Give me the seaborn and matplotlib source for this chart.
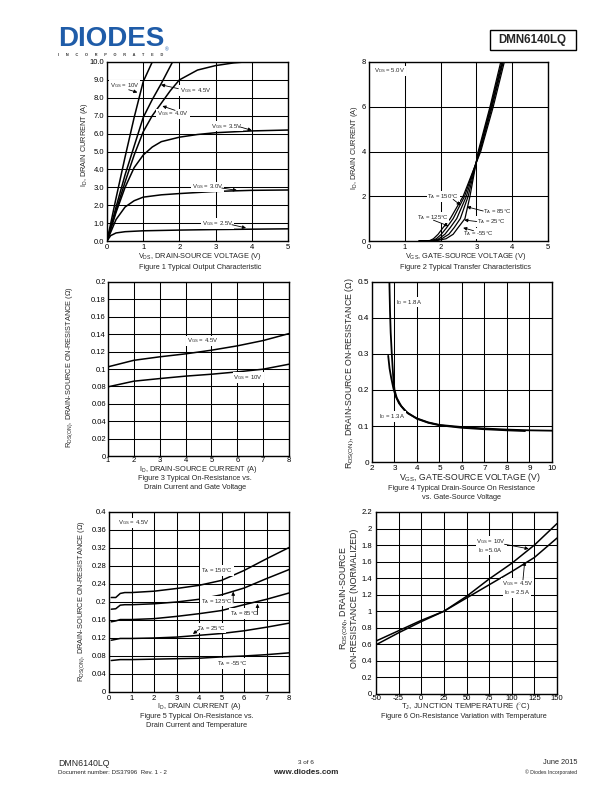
import matplotlib
matplotlib.use("Agg")
import matplotlib.pyplot as plt
from matplotlib.lines import Line2D
from matplotlib.patches import Rectangle
import seaborn as sns

# ---------------- DATA ----------------
# Figure 1: Typical Output Characteristic (VDS [V], ID [A])
f1_vds_10 = [0, 0.25, 0.5, 0.75, 1.0, 1.25]
f1_id_10 = [0, 2.4, 4.7, 6.9, 8.9, 10.0]
f1_vds_45 = [0, 0.25, 0.5, 0.75, 1.0, 1.25, 1.5, 1.81]
f1_id_45 = [0, 1.9, 3.7, 5.3, 6.9, 7.9, 8.8, 10.0]
f1_vds_40 = [0, 0.25, 0.5, 0.75, 1.0, 1.25, 1.5, 1.75, 2.0, 2.5, 3.0, 3.5, 3.8]
f1_id_40 = [0, 1.7, 3.3, 4.8, 6.1, 7.0, 7.7, 8.4, 9.0, 9.55, 9.8, 9.95, 10.0]
f1_vds_35 = [0, 0.25, 0.5, 0.75, 1.0, 1.25, 1.5, 2.0, 2.5, 3.0, 4.0, 5.0]
f1_id_35 = [0, 1.6, 3.0, 4.1, 4.8, 5.25, 5.55, 5.8, 5.95, 6.05, 6.15, 6.2]
f1_vds_30 = [0, 0.25, 0.5, 0.75, 1.0, 1.5, 2.0, 3.0, 4.0, 5.0]
f1_id_30 = [0, 1.2, 1.9, 2.25, 2.45, 2.58, 2.65, 2.77, 2.83, 2.85]
f1_vds_25 = [0, 0.1, 0.25, 0.5, 1.0, 2.0, 3.0, 4.0, 5.0]
f1_id_25 = [0, 0.3, 0.45, 0.52, 0.57, 0.61, 0.64, 0.66, 0.68]

# Figure 2: Typical Transfer Characteristics (VGS [V] at given ID [A])
f2_id = [0, 0.02, 0.1, 0.3, 0.6, 1.0, 2.0, 4.0, 6.0, 8.0]
f2_vgs_150 = [1.4, 1.70, 1.80, 1.93, 2.07, 2.27, 2.63, 3.12, 3.47, 3.78]
f2_vgs_125 = [1.4, 1.75, 1.88, 2.02, 2.17, 2.35, 2.67, 3.10, 3.44, 3.75]
f2_vgs_85 = [1.4, 1.80, 1.95, 2.12, 2.27, 2.45, 2.72, 3.08, 3.42, 3.73]
f2_vgs_25 = [1.4, 1.85, 2.03, 2.23, 2.38, 2.55, 2.77, 3.07, 3.40, 3.71]
f2_vgs_m55 = [1.4, 1.90, 2.15, 2.35, 2.49, 2.68, 2.82, 3.05, 3.38, 3.68]

# Figure 3: On-Resistance vs Drain Current and Gate Voltage
f3_id = [1, 2, 3, 4, 5, 6, 7, 8]
f3_r_45 = [0.1025, 0.110, 0.114, 0.1174, 0.1216, 0.1266, 0.1327, 0.1407]
f3_r_10 = [0.0795, 0.086, 0.089, 0.0918, 0.094, 0.0967, 0.0998, 0.1055]

# Figure 4: On-Resistance vs Gate-Source Voltage
f4_vgs_18 = [2.77, 2.80, 2.83, 2.88, 2.95, 3.0, 3.1, 3.3, 3.6, 4.0, 4.5, 5, 6, 7, 8, 9, 10]
f4_r_18 = [0.51, 0.42, 0.36, 0.30, 0.23, 0.20, 0.178, 0.155, 0.135, 0.121, 0.110,
           0.103, 0.097, 0.093, 0.090, 0.088, 0.087]
f4_vgs_13 = [2.72, 2.78, 2.85, 2.95, 3.05, 3.2, 3.5, 4.0, 4.5, 5, 6, 7, 8, 8.8]
f4_r_13 = [0.295, 0.26, 0.235, 0.205, 0.183, 0.163, 0.140, 0.120, 0.109, 0.102,
           0.095, 0.091, 0.088, 0.086]

# Figure 5: On-Resistance vs Drain Current and Temperature
f5_id = [0.1, 0.3, 0.5, 0.7, 1, 2, 3, 4, 5, 6, 7, 8]
f5_r_150 = [0.210, 0.210, 0.219, 0.221, 0.221, 0.224, 0.230, 0.237, 0.248, 0.270, 0.296, 0.321]
f5_r_125 = [0.184, 0.185, 0.193, 0.194, 0.194, 0.196, 0.200, 0.206, 0.216, 0.231, 0.252, 0.272]
f5_r_85 = [0.156, 0.158, 0.161, 0.161, 0.161, 0.163, 0.168, 0.174, 0.181, 0.194, 0.206, 0.220]
f5_r_25 = [0.115, 0.117, 0.119, 0.119, 0.119, 0.120, 0.122, 0.126, 0.130, 0.136, 0.144, 0.153]
f5_r_m55 = [0.070, 0.071, 0.072, 0.072, 0.072, 0.073, 0.074, 0.075, 0.078, 0.080, 0.083, 0.087]

# Figure 6: On-Resistance Variation with Temperature (normalized)
f6_tj = [-50, -25, 0, 25, 50, 75, 100, 125, 150]
f6_r_10v = [0.595, 0.74, 0.875, 1.0, 1.18, 1.39, 1.58, 1.80, 2.06]
f6_r_45v = [0.64, 0.765, 0.89, 1.0, 1.16, 1.32, 1.48, 1.65, 1.885]

# Tick labels
f1_xt = [0, 1, 2, 3, 4, 5]
f1_yt = [0, 1, 2, 3, 4, 5, 6, 7, 8, 9, 10]
f1_ytl = ["0.0", "1.0", "2.0", "3.0", "4.0", "5.0", "6.0", "7.0", "8.0", "9.0", "10.0"]
f2_xt = [0, 1, 2, 3, 4, 5]
f2_yt = [0, 2, 4, 6, 8]
f3_xt = [1, 2, 3, 4, 5, 6, 7, 8]
f3_yt = [0, 0.02, 0.04, 0.06, 0.08, 0.1, 0.12, 0.14, 0.16, 0.18, 0.2]
f3_ytl = ["0", "0.02", "0.04", "0.06", "0.08", "0.1", "0.12", "0.14", "0.16", "0.18", "0.2"]
f4_xt = [2, 3, 4, 5, 6, 7, 8, 9, 10]
f4_yt = [0, 0.1, 0.2, 0.3, 0.4, 0.5]
f4_ytl = ["0", "0.1", "0.2", "0.3", "0.4", "0.5"]
f5_xt = [0, 1, 2, 3, 4, 5, 6, 7, 8]
f5_yt = [0, 0.04, 0.08, 0.12, 0.16, 0.2, 0.24, 0.28, 0.32, 0.36, 0.4]
f5_ytl = ["0", "0.04", "0.08", "0.12", "0.16", "0.2", "0.24", "0.28", "0.32", "0.36", "0.4"]
f6_xt = [-50, -25, 0, 25, 50, 75, 100, 125, 150]
f6_yt = [0, 0.2, 0.4, 0.6, 0.8, 1.0, 1.2, 1.4, 1.6, 1.8, 2.0, 2.2]
f6_ytl = ["0", "0.2", "0.4", "0.6", "0.8", "1", "1.2", "1.4", "1.6", "1.8", "2", "2.2"]

# ---------------- STYLE ----------------
sns.set_style("white")
plt.rcParams["font.family"] = ["Liberation Sans", "DejaVu Sans"]
plt.rcParams["mathtext.fontset"] = "custom"
plt.rcParams["mathtext.rm"] = "Liberation Sans"
plt.rcParams["mathtext.it"] = "Liberation Sans:italic"
plt.rcParams["mathtext.bf"] = "Liberation Sans:bold"
plt.rcParams["mathtext.default"] = "rm"

W, H = 612, 792
fig = plt.figure(figsize=(W / 100, H / 100), dpi=100)
fig.patch.set_facecolor("white")


def ax_at(l, t, r, b):
    return fig.add_axes([l / W, 1 - b / H, (r - l) / W, (b - t) / H])


def ft(x, y, s, **kw):
    kw.setdefault("ha", "center")
    kw.setdefault("va", "center")
    fig.text(x / W, 1 - y / H, s, **kw)


def style(ax, xlim, ylim, xt, yt, xtl=None, ytl=None, fs=5.5, pad=2, xpad=None):
    ax.set_xlim(xlim)
    ax.set_ylim(ylim)
    ax.set_xticks(xt)
    ax.set_yticks(yt)
    ax.set_xticklabels(xtl if xtl is not None else [str(v) for v in xt])
    ax.set_yticklabels(ytl if ytl is not None else [str(v) for v in yt])
    ax.grid(True, color="black", lw=0.75)
    for s in ax.spines.values():
        s.set_visible(True)
        s.set_color("black")
        s.set_linewidth(1.0)
    ax.tick_params(length=0, labelsize=fs, pad=pad, colors="black")
    if xpad is not None:
        ax.tick_params(axis="x", pad=xpad)
    ax.set_xlabel("")
    ax.set_ylabel("")


def curve(ax, x, y, lw=1.1):
    sns.lineplot(x=x, y=y, ax=ax, color="black", linewidth=lw, sort=False,
                 estimator=None, legend=False)


BOX = dict(facecolor="white", edgecolor="none", pad=0.6)
AP = dict(arrowstyle="-|>", color="black", lw=0.6, mutation_scale=5,
          shrinkA=0, shrinkB=0)
LFS = 4.3


def lab(ax, x, y, s, ha="left", box=True):
    ax.text(x, y, s, fontsize=LFS, ha=ha, va="center",
            bbox=BOX if box else None, zorder=5)


def arr(ax, tail, head):
    ax.annotate("", xy=head, xytext=tail, arrowprops=AP, zorder=6)


# ---------------- FIGURE 1 ----------------
ax1 = ax_at(107, 62, 288, 241)
for xs, ys in [(f1_vds_10, f1_id_10), (f1_vds_45, f1_id_45), (f1_vds_40, f1_id_40),
               (f1_vds_35, f1_id_35), (f1_vds_30, f1_id_30), (f1_vds_25, f1_id_25)]:
    curve(ax1, xs, ys)
style(ax1, (0, 5), (0, 10), f1_xt, f1_yt, ytl=f1_ytl)
lab(ax1, 0.07, 8.68, r"V$_{\rm GS}$ = 10V")
arr(ax1, (0.6, 8.45), (0.84, 8.3))
lab(ax1, 2.02, 8.42, r"V$_{\rm GS}$ = 4.5V")
arr(ax1, (1.97, 8.51), (1.49, 8.73))
lab(ax1, 1.39, 7.1, r"V$_{\rm GS}$ = 4.0V")
arr(ax1, (1.88, 7.3), (1.53, 7.54))
lab(ax1, 2.86, 6.42, r"V$_{\rm GS}$ = 3.5V")
arr(ax1, (3.68, 6.37), (4.0, 6.18))
lab(ax1, 2.34, 3.02, r"V$_{\rm GS}$ = 3.0V")
arr(ax1, (3.17, 2.96), (3.59, 2.83))
lab(ax1, 2.62, 0.97, r"V$_{\rm GS}$ = 2.5V")
arr(ax1, (3.45, 0.91), (3.84, 0.73))

# ---------------- FIGURE 2 ----------------
ax2 = ax_at(369, 62, 548, 241)
for xs in [f2_vgs_150, f2_vgs_125, f2_vgs_85, f2_vgs_25, f2_vgs_m55]:
    curve(ax2, xs, f2_id, lw=0.9)
style(ax2, (0, 5), (0, 8), f2_xt, f2_yt)
lab(ax2, 0.14, 7.6, r"V$_{\rm DS}$ = 5.0V")
lab(ax2, 1.63, 1.98, r"T$_{\rm A}$ = 150°C")
arr(ax2, (2.35, 1.86), (2.56, 1.6))
lab(ax2, 3.18, 1.31, r"T$_{\rm A}$ = 85°C")
arr(ax2, (3.19, 1.34), (2.73, 1.53))
lab(ax2, 1.33, 1.06, r"T$_{\rm A}$ = 125°C")
arr(ax2, (1.80, 0.93), (2.22, 0.67))
lab(ax2, 3.01, 0.86, r"T$_{\rm A}$ = 25°C")
arr(ax2, (3.01, 0.87), (2.66, 0.94))
lab(ax2, 2.62, 0.34, r"T$_{\rm A}$ = -55°C")
arr(ax2, (2.92, 0.46), (2.63, 0.59))

# ---------------- FIGURE 3 ----------------
ax3 = ax_at(108, 282, 289, 456)
curve(ax3, f3_id, f3_r_45)
curve(ax3, f3_id, f3_r_10)
style(ax3, (1, 8), (0, 0.2), f3_xt, f3_yt, ytl=f3_ytl, pad=1.5, xpad=0.8)
lab(ax3, 4.05, 0.1323, r"V$_{\rm GS}$ = 4.5V")
lab(ax3, 5.85, 0.090, r"V$_{\rm GS}$ = 10V")

# ---------------- FIGURE 4 ----------------
ax4 = ax_at(372, 282, 552, 462)
curve(ax4, f4_vgs_18, f4_r_18, lw=1.3)
curve(ax4, f4_vgs_13, f4_r_13, lw=1.3)
style(ax4, (2, 10), (0, 0.5), f4_xt, f4_yt, ytl=f4_ytl, fs=5.9, pad=1.8)
lab(ax4, 3.07, 0.444, r"I$_{\rm D}$ = 1.8A")
lab(ax4, 2.33, 0.127, r"I$_{\rm D}$ = 1.3A")

# ---------------- FIGURE 5 ----------------
ax5 = ax_at(109, 512, 289, 692)
for ys in [f5_r_150, f5_r_125, f5_r_85, f5_r_25, f5_r_m55]:
    curve(ax5, f5_id, ys)
style(ax5, (0, 8), (0, 0.4), f5_xt, f5_yt, ytl=f5_ytl)
lab(ax5, 0.4, 0.376, r"V$_{\rm GS}$ = 4.5V")
lab(ax5, 4.1, 0.27, r"T$_{\rm A}$ = 150°C")
lab(ax5, 4.1, 0.202, r"T$_{\rm A}$ = 125°C")
arr(ax5, (5.52, 0.198), (5.52, 0.223))
lab(ax5, 5.36, 0.174, r"T$_{\rm A}$ = 85°C")
arr(ax5, (6.6, 0.172), (6.6, 0.196))
lab(ax5, 3.9, 0.142, r"T$_{\rm A}$ = 25°C")
arr(ax5, (4.0, 0.139), (3.73, 0.129))
lab(ax5, 4.8, 0.063, r"T$_{\rm A}$ = -55°C")

# ---------------- FIGURE 6 ----------------
ax6 = ax_at(376, 512, 557, 694)
curve(ax6, f6_tj, f6_r_10v)
curve(ax6, f6_tj, f6_r_45v)
style(ax6, (-50, 150), (0, 2.2), f6_xt, f6_yt, ytl=f6_ytl, pad=3, xpad=1.0)
lab(ax6, 61, 1.84, r"V$_{\rm GS}$ = 10V")
lab(ax6, 63, 1.74, r"I$_{\rm D}$ =5.0A")
arr(ax6, (92, 1.81), (118.7, 1.755))
lab(ax6, 89, 1.34, r"V$_{\rm GS}$ = 4.5V")
lab(ax6, 91, 1.23, r"I$_{\rm D}$ = 2.5A")
arr(ax6, (112.4, 1.38), (114.3, 1.6))

# ---------------- AXIS LABELS & CAPTIONS ----------------
AFS = 5.3
CFS = 5.3
ft(200, 256.5, r"V$_{\rm DS}$, DRAIN-SOURCE VOLTAGE (V)", fontsize=AFS)
ft(200, 267.5, "Figure 1 Typical Output Characteristic", fontsize=CFS)
ft(85, 145, r"I$_{\rm D}$, DRAIN CURRENT (A)", fontsize=AFS, rotation=90)

ft(466, 256.5, r"V$_{\rm GS}$, GATE-SOURCE VOLTAGE (V)", fontsize=AFS)
ft(466, 267.5, "Figure 2 Typical Transfer Characteristics", fontsize=CFS)
ft(354, 148, r"I$_{\rm D}$, DRAIN CURRENT (A)", fontsize=AFS, rotation=90)

ft(198, 469.5, r"I$_{\rm D}$, DRAIN-SOURCE CURRENT (A)", fontsize=AFS)
ft(195, 478.5, "Figure 3 Typical On-Resistance vs.", fontsize=CFS)
ft(195, 487, "Drain Current and Gate Voltage", fontsize=CFS)
ft(70, 367, r"R$_{\rm DS(ON)}$, DRAIN-SOURCE ON-RESISTANCE ($\Omega$)",
   fontsize=AFS, rotation=90)

ft(470, 477.5, r"V$_{\rm GS}$, GATE-SOURCE VOLTAGE (V)", fontsize=6.2)
ft(462, 489, "Figure 4 Typical Drain-Source On Resistance", fontsize=CFS)
ft(462, 497.5, "vs. Gate-Source Voltage", fontsize=CFS)
ft(350.5, 373, r"R$_{\rm DS(ON)}$, DRAIN-SOURCE ON-RESISTANCE ($\Omega$)",
   fontsize=6.3, rotation=90)

ft(199, 706.5, r"I$_{\rm D}$, DRAIN CURRENT (A)", fontsize=AFS)
ft(197, 717, "Figure 5 Typical On-Resistance vs.", fontsize=CFS)
ft(197, 725.5, "Drain Current and Temperature", fontsize=CFS)
ft(81.5, 601, r"R$_{\rm DS(ON)}$, DRAIN-SOURCE ON-RESISTANCE ($\Omega$)",
   fontsize=AFS, rotation=90)

ft(466, 707, r"T$_{\rm J}$, JUNCTION TEMPERATURE ($^{\circ}$C)", fontsize=5.6)
ft(464, 717, "Figure 6 On-Resistance Variation with Temperature", fontsize=CFS)
ft(344.5, 598, r"R$_{\rm DS(ON)}$, DRAIN-SOURCE", fontsize=6.4, rotation=90)
ft(354.5, 598, "ON-RESISTANCE (NORMALIZED)", fontsize=6.4, rotation=90)

# ---------------- HEADER ----------------
ft(58, 39, "DIODES", fontsize=20, fontweight="bold", color="#1f5ca8",
   ha="left", va="center")
fig.add_artist(Line2D([58 / W, 168 / W], [1 - 41.5 / H, 1 - 41.5 / H],
                      color="white", lw=1.1, transform=fig.transFigure))
ft(111, 54.5, "I      N      C      O      R      P      O      R      A      T      E      D",
   fontsize=2.8, fontweight="bold", color="#333333")
ft(167, 50, "®", fontsize=3.5, color="#1f5ca8")
fig.add_artist(Rectangle((489.5 / W, 1 - 50 / H), (575.5 - 489.5) / W, 20.5 / H,
                         transform=fig.transFigure, fill=False, ec="black", lw=1.0))
ft(532.5, 39.8, "DMN6140LQ", fontsize=8.3, fontweight="bold")

# ---------------- FOOTER ----------------
ft(58, 763, "DMN6140LQ", fontsize=6.3, ha="left")
ft(58, 773, "Document number: DS37996  Rev. 1 - 2", fontsize=4.4, ha="left")
ft(306, 762.5, "3 of 6", fontsize=4.6)
ft(306, 772.5, "www.diodes.com", fontsize=5.8, fontweight="bold")
ft(577, 763, "June 2015", fontsize=5.3, ha="right")
ft(577, 772.5, "© Diodes Incorporated", fontsize=3.7, ha="right")

fig.savefig("out.png", dpi=100, facecolor="white")
